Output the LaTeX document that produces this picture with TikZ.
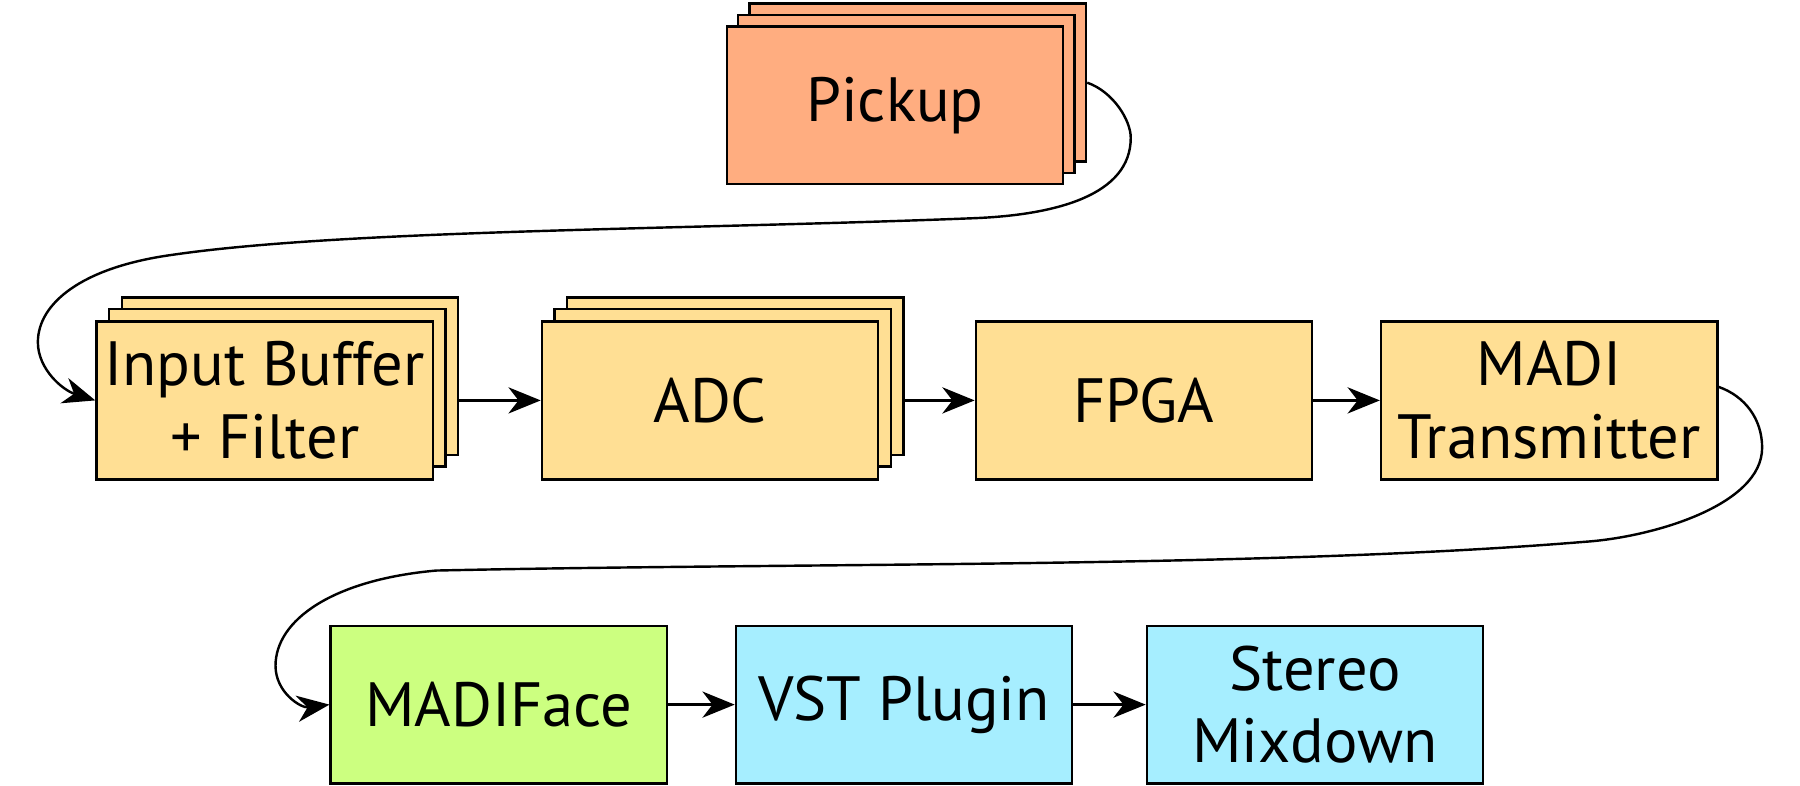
\documentclass[tikz,border=0pt]{standalone}
\usepackage{fontspec}
\setmainfont{PT Sans}
\usetikzlibrary{arrows.meta}
\definecolor{cpick}{HTML}{FFAD80}
\definecolor{cyel}{HTML}{FFDF94}
\definecolor{cgrn}{HTML}{CCFF80}
\definecolor{ccyn}{HTML}{A6EEFF}
\begin{document}
\begin{tikzpicture}[x=0.02cm,y=-0.02cm,
  blk/.style={draw=black,line width=1.2pt,minimum width=5.86cm,minimum height=2.75cm,inner sep=0pt,align=center,font=\fontsize{31}{36}\selectfont},
  conn/.style={line width=1.2pt,-{Stealth[length=16pt,width=13pt,inset=5pt]}},
  curv/.style={line width=1.2pt,-{Stealth[length=16pt,width=13pt,inset=5pt]}}]
\useasboundingbox (0,0) rectangle (1568,684);
% Pickup stack
\node[blk,fill=cpick,anchor=north west] (p3) at (652,2) {};
\node[blk,fill=cpick,anchor=north west] (p2) at (642,12) {};
\node[blk,fill=cpick,anchor=north west] (pick) at (632,22) {Pickup};
% Input buffer stack
\node[blk,fill=cyel,anchor=north west] (i3) at (105,258) {};
\node[blk,fill=cyel,anchor=north west] (i2) at (94,268) {};
\node[blk,fill=cyel,anchor=north west] (inb) at (83,279) {Input Buffer\\+ Filter};
% ADC stack
\node[blk,fill=cyel,anchor=north west] (a3) at (493,258) {};
\node[blk,fill=cyel,anchor=north west] (a2) at (482,268) {};
\node[blk,fill=cyel,anchor=north west] (adc) at (471,279) {ADC};
\node[blk,fill=cyel,anchor=north west] (fpga) at (849,279) {FPGA};
\node[blk,fill=cyel,anchor=north west] (madi) at (1202,279) {MADI\\Transmitter};
\node[blk,fill=cgrn,anchor=north west] (mf) at (287,544) {MADIFace};
\node[blk,fill=ccyn,anchor=north west] (vst) at (640,544) {VST Plugin};
\node[blk,fill=ccyn,anchor=north west] (st) at (998,544) {Stereo\\Mixdown};
\draw[conn] (i3.east|-inb.east) -- (adc.west);
\draw[conn] (a3.east|-adc.east) -- (fpga.west);
\draw[conn] (fpga.east) -- (madi.west);
\draw[conn] (mf.east) -- (vst.west);
\draw[conn] (vst.east) -- (st.west);
\coordinate (c1) at (p3.east|-0,72);
\draw[curv] (c1) .. controls (970,80) and (985,105) .. (985,120)
  .. controls (985,170) and (920,187) .. (850,190)
  .. controls (600,200) and (300,200) .. (150,222)
  .. controls (70,233) and (33,265) .. (33,298)
  .. controls (33,322) and (55,340) .. (inb.west);
\coordinate (c2) at (madi.north east|-0,337);
\draw[curv] (c2) .. controls (1520,345) and (1535,365) .. (1535,390)
  .. controls (1535,440) and (1440,468) .. (1380,472)
  .. controls (1100,495) and (700,490) .. (380,497)
  .. controls (290,505) and (240,540) .. (240,580)
  .. controls (240,603) and (262,617) .. (mf.west);
\end{tikzpicture}
\end{document}
